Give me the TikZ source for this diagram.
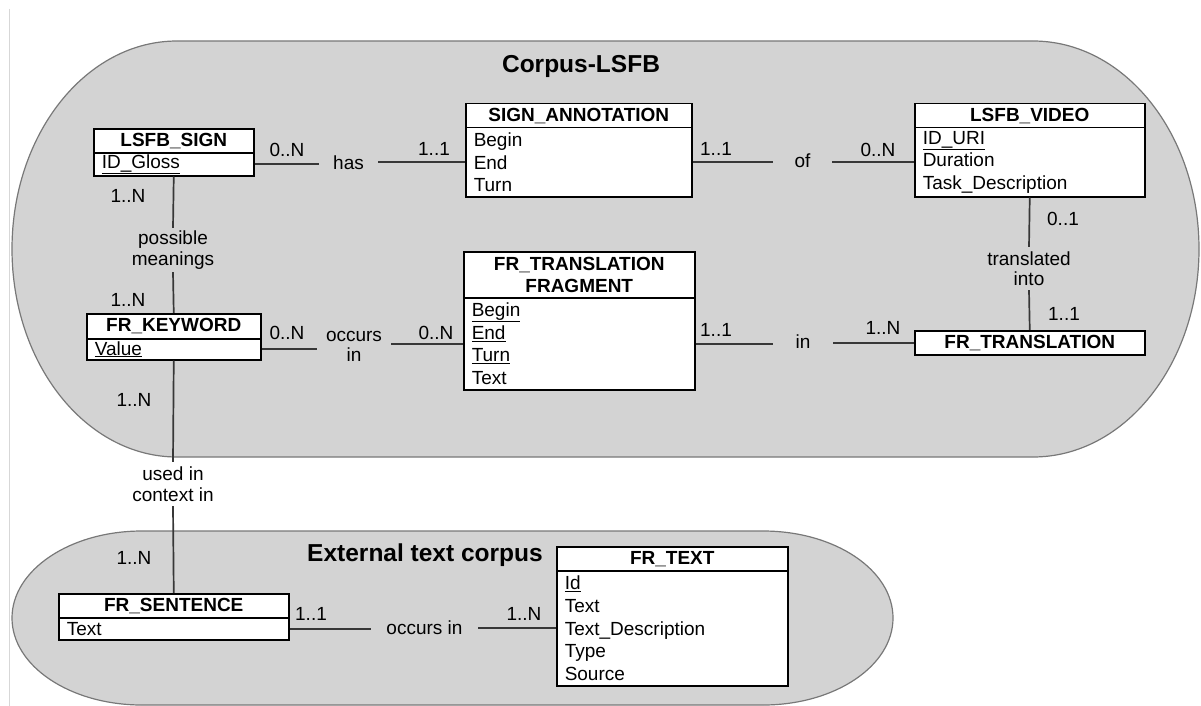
\documentclass[tikz,border=0pt]{standalone}
\usepackage{fontspec}
\setmainfont{Liberation Sans}
\definecolor{capgray}{RGB}{211,211,211}
\definecolor{capline}{RGB}{120,120,120}
\definecolor{connc}{RGB}{55,55,55}
\definecolor{pageline}{RGB}{215,215,215}
\begin{document}
\begin{tikzpicture}[x=1pt,y=-1pt,
  capsule/.style={fill=capgray, draw=capline, line width=1.2pt},
  ehead/.style={draw=black, line width=1.5pt, fill=white, inner sep=0pt, anchor=north west, align=center, font=\fontsize{19}{22}\selectfont\bfseries},
  ebody/.style={draw=black, line width=1.5pt, fill=white, inner xsep=8pt, inner ysep=0pt, anchor=north west, align=left, font=\fontsize{19}{22.8}\selectfont},
  conn/.style={draw=connc, line width=1.7pt},
  card/.style={inner sep=0pt, font=\fontsize{19}{22}\selectfont},
  rel/.style={inner sep=0pt, align=center, font=\fontsize{19}{20.5}\selectfont},
  ttl/.style={inner sep=0pt, font=\fontsize{24.5}{28}\selectfont\bfseries}]
\useasboundingbox (0,0) rectangle (1201,706);
\draw[pageline, line width=0.8pt] (9,9) -- (9,706);

% capsules
\path[capsule] (177,41) -- (1033,41) arc[start angle=90, end angle=-90, x radius=166pt, y radius=208pt]
  -- (177,457) arc[start angle=270, end angle=90, x radius=165pt, y radius=208pt] -- cycle;
\path[capsule] (142,531) -- (763,531) arc[start angle=90, end angle=-90, x radius=130pt, y radius=87pt]
  -- (142,705) arc[start angle=270, end angle=90, x radius=130pt, y radius=87pt] -- cycle;

\node[ttl] (t1) at (581,66) {Corpus-LSFB};
\node[ttl] (t2) at (425,555) {External text corpus};

% entities
\node[ehead, minimum width=160pt, minimum height=24pt] (signh) at (93,128) {LSFB\_SIGN};
\node[ebody, text width=144pt, minimum height=23pt] (signb) at (93,152) {\underline{ID\_Gloss}};

\node[ehead, minimum width=226pt, minimum height=24pt] (annh) at (465,103) {SIGN\_ANNOTATION};
\node[ebody, text width=210pt, minimum height=69pt] (annb) at (465,127) {Begin\\End\\Turn};

\node[ehead, minimum width=230pt, minimum height=24pt] (vidh) at (914,103) {LSFB\_VIDEO};
\node[ebody, text width=214pt, minimum height=69pt] (vidb) at (914,127) {\underline{ID\_URI}\\Duration\\Task\_Description};

\node[ehead, minimum width=231pt, minimum height=46pt] (fragh) at (463,251) {FR\_TRANSLATION\\FRAGMENT};
\node[ebody, text width=215pt, minimum height=92pt] (fragb) at (463,297) {\underline{Begin}\\\underline{End}\\\underline{Turn}\\Text};

\node[ehead, minimum width=174pt, minimum height=25pt] (kwh) at (86,313) {FR\_KEYWORD};
\node[ebody, text width=158pt, minimum height=21pt] (kwb) at (86,338) {\underline{Value}};

\node[ehead, minimum width=230pt, minimum height=24pt] (trans) at (914,330) {FR\_TRANSLATION};

\node[ehead, minimum width=230pt, minimum height=24pt] (senth) at (58,593) {FR\_SENTENCE};
\node[ebody, text width=214pt, minimum height=22pt] (sentb) at (58,617) {Text};

\node[ehead, minimum width=231pt, minimum height=24pt] (texth) at (556,546) {FR\_TEXT};
\node[ebody, text width=215pt, minimum height=115pt] (textb) at (556,570) {\underline{Id}\\Text\\Text\_Description\\Type\\Source};

% relationship labels
\node[rel, minimum width=59pt] (has) at (348.5,163) {has};
\node[rel, minimum width=59pt] (of) at (802.5,161) {of};
\node[rel, minimum width=60pt] (inr) at (803,342) {in};
\node[rel, minimum width=74pt] (occ) at (354,346.5) {occurs\\in};
\node[rel, minimum width=107pt] (occ2) at (424.5,627.5) {occurs in};
\node[rel, minimum height=44pt] (pm) at (173,250) {possible\\meanings};
\node[rel, minimum height=43pt] (tr) at (1029,268.5) {translated\\into};
\node[rel, minimum height=44pt] (used) at (173,484) {used in\\context in};

% connectors
\draw[conn] (signb.east) -- (signb.east -| has.west);
\draw[conn] (has.east |- annb.west) -- (annb.west);
\draw[conn] (annb.east) -- (annb.east -| of.west);
\draw[conn] (of.east |- vidb.west) -- (vidb.west);
\draw[conn] (fragb.east) -- (fragb.east -| inr.west);
\draw[conn] (inr.east |- trans.west) -- (trans.west);
\draw[conn] (kwb.east) -- (kwb.east -| occ.west);
\draw[conn] (occ.east |- fragb.west) -- (fragb.west);
\draw[conn] (sentb.east) -- (sentb.east -| occ2.west);
\draw[conn] (occ2.east |- textb.west) -- (textb.west);
\draw[conn] (signb.south) -- (pm.north);
\draw[conn] (pm.south) -- (kwh.north);
\draw[conn] (vidb.south) -- (tr.north);
\draw[conn] (tr.south) -- (trans.north);
\draw[conn] (kwb.south) -- (used.north);
\draw[conn] (used.south) -- (senth.north);

% cardinalities
\node[card] (c1) at (287,150) {0..N};
\node[card] (c2) at (434,149) {1..1};
\node[card] (c3) at (716,149) {1..1};
\node[card] (c4) at (878,150) {0..N};
\node[card] (c5) at (1063,219) {0..1};
\node[card] (c6) at (1064,314) {1..1};
\node[card] (c7) at (883,328) {1..N};
\node[card] (c8) at (716,330) {1..1};
\node[card] (c9) at (128,196) {1..N};
\node[card] (c10) at (128,300) {1..N};
\node[card] (c11) at (287,333) {0..N};
\node[card] (c12) at (436,333) {0..N};
\node[card] (c13) at (134,400) {1..N};
\node[card] (c14) at (134,558) {1..N};
\node[card] (c15) at (311,614) {1..1};
\node[card] (c16) at (524,614) {1..N};
\end{tikzpicture}
\end{document}
